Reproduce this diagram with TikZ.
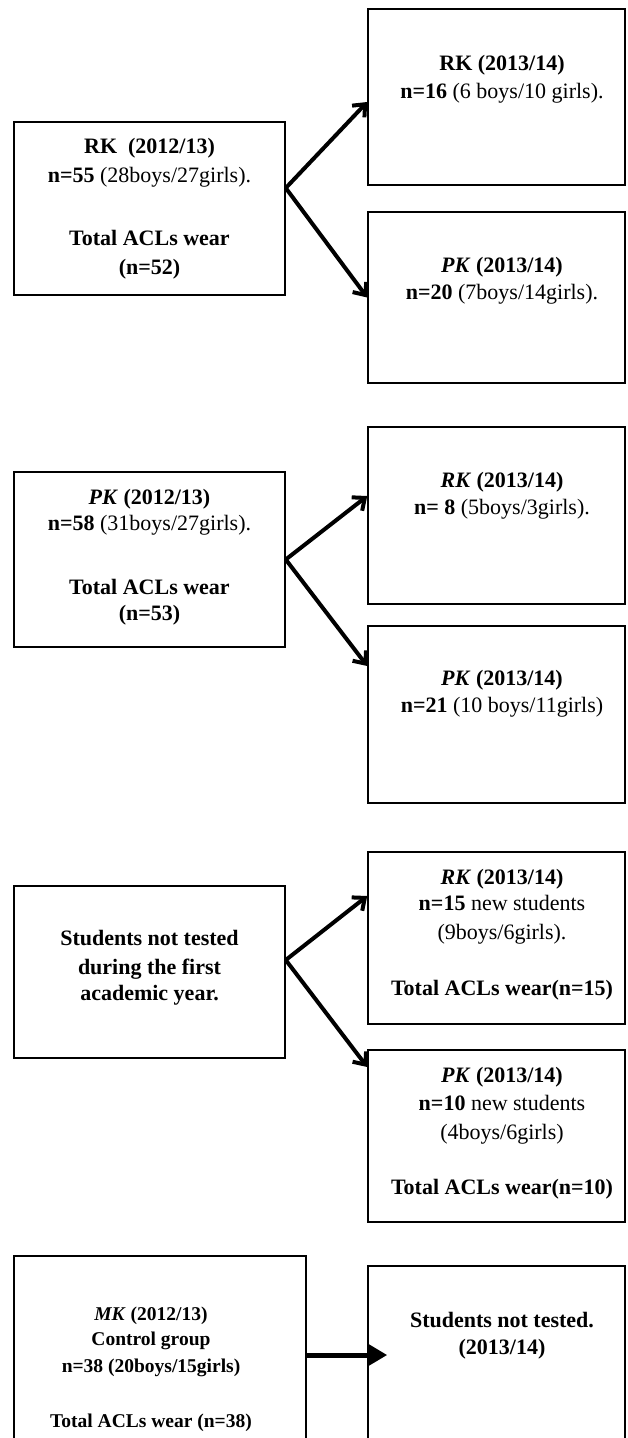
\documentclass[tikz,border=0pt]{standalone}
\usepackage{fontspec}
\setmainfont{Liberation Serif}
\usetikzlibrary{arrows.meta}
\tikzset{
  box/.style={draw=black, line width=1.5pt, inner sep=0pt, rectangle},
  txt/.style={anchor=base, inner sep=0pt, font=\fontsize{22}{27.5}\selectfont},
  stxt/.style={anchor=base, inner sep=0pt, font=\fontsize{19.5}{26}\selectfont},
  darrow/.style={line width=4pt, -{Straight Barb[length=10pt,width=17pt]}},
  harrow/.style={line width=5pt, -{Triangle[length=20pt,width=22pt]}, shorten >=-20pt},
}
\begin{document}
\begin{tikzpicture}[x=1pt,y=-1pt]
\useasboundingbox (0,0) rectangle (627,1438);
\fill[white] (0,0) rectangle (627,1438);
\clip (0,0) rectangle (627,1438);

% boxes
\node[box, minimum width=271pt, minimum height=173pt] (b1) at (149.5,208.5) {};
\node[box, minimum width=257pt, minimum height=176pt] (r1) at (496.5,97) {};
\node[box, minimum width=257pt, minimum height=171pt] (r2) at (496.5,297.5) {};
\node[box, minimum width=271pt, minimum height=175pt] (b2) at (149.5,559.5) {};
\node[box, minimum width=257pt, minimum height=177pt] (r3) at (496.5,515.5) {};
\node[box, minimum width=257pt, minimum height=177pt] (r4) at (496.5,714.5) {};
\node[box, minimum width=271pt, minimum height=172pt] (b3) at (149.5,972) {};
\node[box, minimum width=257pt, minimum height=172pt] (r5) at (496.5,938) {};
\node[box, minimum width=257pt, minimum height=172pt] (r6) at (496.5,1136) {};
\node[box, minimum width=292pt, minimum height=198pt] (mk) at (160,1355) {};
\node[box, minimum width=257pt, minimum height=178pt] (r7) at (496.5,1355) {};

% texts box 1
\node[txt] (b1l1) at (149.5,153) {\textbf{RK\ \ (2012/13)}};
\node[txt] (b1l2) at (149.5,182) {\textbf{n=55} (28boys/27girls).};
\node[txt] (b1l3) at (149.5,245) {\textbf{Total ACLs wear}};
\node[txt] (b1l4) at (149.5,274) {\textbf{(n=52)}};
\node[txt] (r1l1) at (502,70) {\textbf{RK (2013/14)}};
\node[txt] (r1l2) at (502,98) {\textbf{n=16} (6 boys/10 girls).};
\node[txt] (r2l1) at (502,272) {\textbf{\textit{PK} (2013/14)}};
\node[txt] (r2l2) at (502,299) {\textbf{n=20} (7boys/14girls).};

% texts box 2
\node[txt] (b2l1) at (149.5,504) {\textbf{\textit{PK} (2012/13)}};
\node[txt] (b2l2) at (149.5,530) {\textbf{n=58} (31boys/27girls).};
\node[txt] (b2l3) at (149.5,594) {\textbf{Total ACLs wear}};
\node[txt] (b2l4) at (149.5,620) {\textbf{(n=53)}};
\node[txt] (r3l1) at (502,487) {\textbf{\textit{RK} (2013/14)}};
\node[txt] (r3l2) at (502,514) {\textbf{n= 8} (5boys/3girls).};
\node[txt] (r4l1) at (502,685) {\textbf{\textit{PK} (2013/14)}};
\node[txt] (r4l2) at (502,712) {\textbf{n=21} (10 boys/11girls)};

% texts box 3
\node[txt] (b3l1) at (149.5,945) {\textbf{Students not tested}};
\node[txt] (b3l2) at (149.5,974) {\textbf{during the first}};
\node[txt] (b3l3) at (149.5,1000) {\textbf{academic year.}};
\node[txt] (r5l1) at (502,884) {\textbf{\textit{RK} (2013/14)}};
\node[txt] (r5l2) at (502,910) {\textbf{n=15} new students};
\node[txt] (r5l3) at (502,939) {(9boys/6girls).};
\node[txt] (r5l4) at (502,995) {\textbf{Total ACLs wear(n=15)}};
\node[txt] (r6l1) at (502,1082) {\textbf{\textit{PK} (2013/14)}};
\node[txt] (r6l2) at (502,1110) {\textbf{n=10} new students};
\node[txt] (r6l3) at (502,1139) {(4boys/6girls)};
\node[txt] (r6l4) at (502,1194) {\textbf{Total ACLs wear(n=10)}};

% texts box 4
\node[stxt] (mkl1) at (151,1320) {\textbf{\textit{MK} (2012/13)}};
\node[stxt] (mkl2) at (151,1345) {\textbf{Control group}};
\node[stxt] (mkl3) at (151,1372) {\textbf{n=38 (20boys/15girls)}};
\node[stxt] (mkl4) at (151,1427) {\textbf{Total ACLs wear (n=38)}};
\node[txt] (r7l1) at (502,1327) {\textbf{Students not tested.}};
\node[txt] (r7l2) at (502,1354) {\textbf{(2013/14)}};

% arrows
\draw[darrow] ([yshift=20.5pt]b1.east) -- ([yshift=-5pt]r1.west);
\draw[darrow] ([yshift=20.5pt]b1.east) -- (r2.west);
\draw[darrow] (b2.east) -- ([yshift=19.5pt]r3.west);
\draw[darrow] (b2.east) -- ([yshift=48.5pt]r4.west);
\draw[darrow] ([yshift=12pt]b3.east) -- ([yshift=42pt]r5.west);
\draw[darrow] ([yshift=12pt]b3.east) -- ([yshift=69pt]r6.west);
\draw[harrow] (mk.east) -- (r7.west);
\end{tikzpicture}
\end{document}
